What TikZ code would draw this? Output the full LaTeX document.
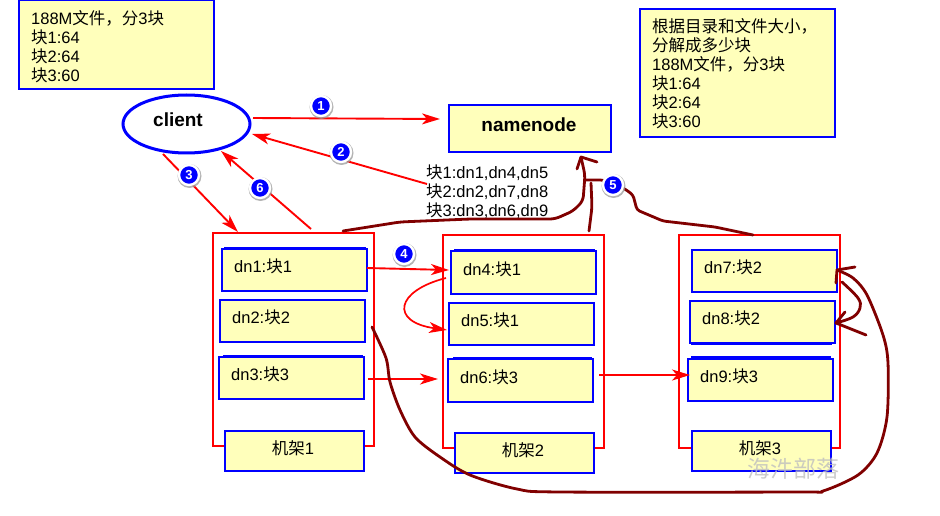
\documentclass[tikz,border=0pt]{standalone}
\usepackage{fontspec}
\setmainfont{Liberation Sans}
\newfontfamily\cj{Noto Sans CJK SC}
\usetikzlibrary{arrows.meta,shapes.geometric}
\definecolor{noteY}{RGB}{255,255,187}
\definecolor{hand}{RGB}{128,0,0}
\definecolor{bl}{RGB}{0,0,255}
\newcommand{\K}[1]{{\cj #1}}
\newcommand{\bx}[6][boxst]{\node[#1,minimum width={(#5-#3)*1pt},minimum height={(#6-#4)*1pt}] (#2) at ({(#3+#5)/2},{(#4+#6)/2}) {};}
\tikzset{
  boxst/.style={draw=bl,fill=noteY,line width=2.3pt,inner sep=0,outer sep=0,rectangle},
  rackst/.style={draw=red,line width=2.3pt,inner sep=0,outer sep=0,rectangle},
  txt/.style={anchor=west,inner sep=0,align=left,font=\fontsize{16.5}{19}\selectfont},
  ctxt/.style={anchor=center,inner sep=0,font=\fontsize{16.5}{19}\selectfont},
  bold/.style={anchor=center,inner sep=0,font=\fontsize{19}{22}\selectfont\bfseries},
  rarrow/.style={draw=red,line width=1.9pt,-{Stealth[length=18pt,width=11pt,inset=5pt]}},
  handst/.style={draw=hand,line width=2.8pt,line join=round,line cap=round},
  badge/.style={circle,draw=white,fill=bl,line width=2.4pt,minimum size=20pt,inner sep=0,text=white,font=\fontsize{13}{13}\selectfont\bfseries},
  badgeshadow/.style={circle,fill=black!40,minimum size=24pt,inner sep=0,opacity=.75},
  thicktop/.style={draw=bl,line width=2.3pt}
}
\newcommand{\bdg}[3]{\node[badgeshadow] (s#1) at (#2+0.5,#3+1) {}; \node[badge] (b#1) at (#2,#3) {#1};}
\begin{document}
\begin{tikzpicture}[x=1pt,y=-1pt]
\useasboundingbox (0,0) rectangle (940,516);
% racks
\bx[rackst]{rackA}{213}{233}{374}{446}
\bx[rackst]{rackB}{443}{235}{604}{448}
\bx[rackst]{rackC}{679}{235}{840}{448}
% notes
\bx{noteL}{19}{0}{214}{89}
\node[txt] (noteLt) at (31,46.5) {188M\K{文件，分}3\K{块}\\\K{块}1:64\\\K{块}2:64\\\K{块}3:60};
\bx{noteR}{640}{9}{835}{137}
\node[txt] (noteRt) at (652,74) {\K{根据目录和文件大小，}\\\K{分解成多少块}\\188M\K{文件，分}3\K{块}\\\K{块}1:64\\\K{块}2:64\\\K{块}3:60};
% client and namenode
\node[ellipse,draw=bl,line width=3pt,fill=white,minimum width=127pt,minimum height=58pt,inner sep=0] (client) at (186.5,124) {};
\node[bold] (clientt) at (178,120) {client};
\bx{nn}{449}{105}{611}{152}
\node[bold] (nnt) at (529,125) {namenode};
% datanodes
\bx{dnA}{222}{249}{367}{291}
\bx{dnB}{220}{300}{365}{342}
\bx{dnC}{219}{357}{364}{399}
\bx{dnD}{451}{251}{596}{294}
\bx{dnE}{449}{303}{594}{345}
\bx{dnF}{448}{359}{593}{402}
\bx{dnG}{692}{250}{837}{292}
\bx{dnH}{690}{301}{835}{343}
\bx{dnI}{688}{359}{833}{401}
\draw[thicktop] (224,248) -- (366,248);
\draw[thicktop] (223,356) -- (363,356);
\draw[thicktop] (454,250) -- (595,250);
\draw[thicktop] (453,358) -- (592,358);
\draw[thicktop] (691,344) -- (832,344);
\draw[thicktop] (691,357.5) -- (831,357.5);
\node[txt] (tA) at (234,266) {dn1:\K{块}1};
\node[txt] (tB) at (232,317) {dn2:\K{块}2};
\node[txt] (tC) at (231,374) {dn3:\K{块}3};
\node[txt] (tD) at (463,269) {dn4:\K{块}1};
\node[txt] (tE) at (461,320) {dn5:\K{块}1};
\node[txt] (tF) at (460,377) {dn6:\K{块}3};
\node[txt] (tG) at (704,267) {dn7:\K{块}2};
\node[txt] (tH) at (702,318) {dn8:\K{块}2};
\node[txt] (tI) at (700,376) {dn9:\K{块}3};
% rack labels
\bx{lblA}{225}{431}{364}{471}
\bx{lblB}{455}{433}{594}{473}
\bx{lblC}{692}{431}{831}{471}
\node[ctxt] (tlA) at (293,448) {\K{机架}1};
\node[ctxt] (tlB) at (523,450) {\K{机架}2};
\node[ctxt] (tlC) at (760,448) {\K{机架}3};
% block list
\node[txt] (list) at (426,192) {\K{块}1:dn1,dn4,dn5\\\K{块}2:dn2,dn7,dn8\\\K{块}3:dn3,dn6,dn9};
% endpoints of the connectors
\coordinate (c1a) at (253,118); \coordinate (c1b) at (440,119);
\coordinate (c2a) at (427,184); \coordinate (c2b) at (252,134);
\coordinate (c3a) at (163,154); \coordinate (c3b) at (238,232);
\coordinate (c6a) at (311,229); \coordinate (c6b) at (221,151);
\coordinate (c4a) at (367,268); \coordinate (c4b) at (449,270);
\coordinate (c7a) at (446,278); \coordinate (c7b) at (447,330);
\coordinate (c8a) at (368,379); \coordinate (c8b) at (438,379);
\coordinate (c9a) at (599,375); \coordinate (c9b) at (690,375);
\coordinate (hAa) at (343,231); \coordinate (nnIn) at (581,157);
\coordinate (hBa) at (589,231); \coordinate (hCa) at (753,235);
\coordinate (hDa) at (372,327); \coordinate (gIn) at (837,270);
\coordinate (hIn) at (836,323); \coordinate (hEa) at (842,282);
% red arrows
\draw[rarrow] (c1a) -- (c1b);
\draw[rarrow] (c2a) -- (c2b);
\draw[rarrow] (c3a) -- (c3b);
\draw[rarrow] (c6a) -- (c6b);
\draw[rarrow] (c4a) -- (c4b);
\draw[rarrow,line width=1.7pt] (c7a) .. controls (395,291) and (390,322) .. (c7b);
\draw[rarrow] (c8a) -- (c8b);
\draw[rarrow,line width=1.6pt] (c9a) -- (c9b);
% hand-drawn connectors
\draw[handst,rounded corners=5pt] (hAa) -- (400,222) -- (470,219) -- (555,219) -- (573,211) -- (583,201) -- (585,175) -- (nnIn);
\draw[handst] (577,169) -- (nnIn) -- (597,162);
\draw[handst,rounded corners=5pt] (hBa) -- (592,207) -- (591,183);
\draw[handst,rounded corners=3pt] (hCa) -- (715,227) -- (663,221) -- (637,210) -- (633,195) -- (625,189) -- (603,180) -- (586,180);
\draw[handst] plot[smooth,tension=.5] coordinates {(hDa) (386,358) (390,382) (400,410) (415,437) (440,457) (470,475) (517,489) (560,492) (800,492) (823,491) (858,475) (877,453) (887,417) (888,363) (883,335) (867,295) (853,278) (gIn)};
\draw[handst] (855,267) -- (gIn) -- (836,283);
\draw[handst] plot[smooth,tension=.6] coordinates {(hEa) (858,298) (860,308) (853,317) (hIn)};
\draw[handst] (845,312) -- (hIn) -- (866,335);
% badges
\bdg{1}{321}{106}
\bdg{2}{341}{152}
\bdg{3}{189}{175}
\bdg{4}{404}{254}
\bdg{5}{613}{185}
\bdg{6}{260}{188}
% watermark
\node[anchor=center,inner sep=0,text=black!25,font=\fontsize{23}{23}\selectfont\cj,opacity=.8] (wm) at (793,469) {海汼部落};
\end{tikzpicture}
\end{document}
